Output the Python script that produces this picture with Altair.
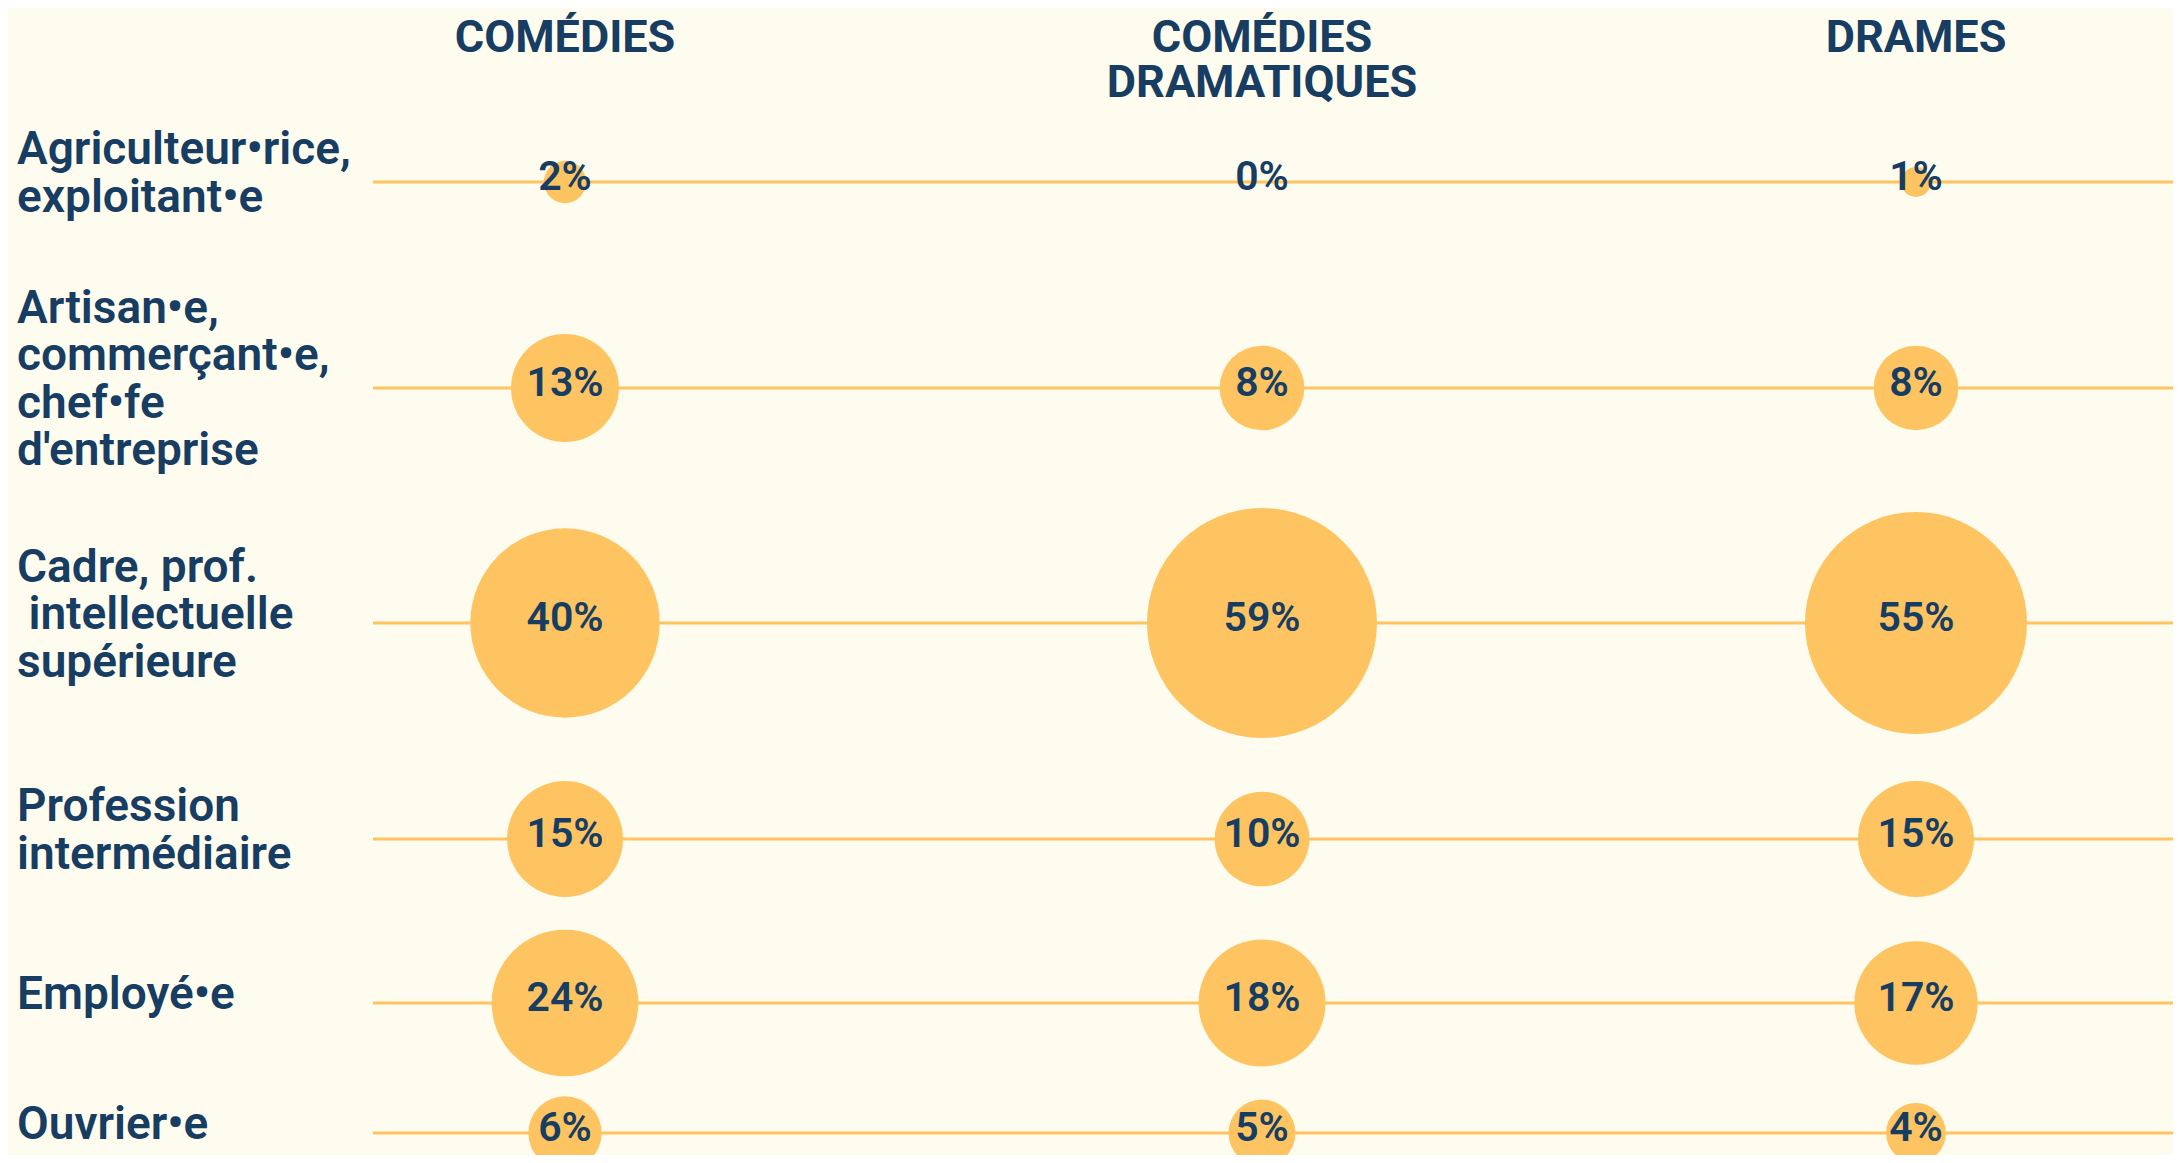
import altair as alt
import pandas as pd

categories = [
    "Agriculteur•rice,\nexploitant•e",
    "Artisan•e,\ncommerçant•e,\nchef•fe\nd'entreprise",
    "Cadre, prof.\n\u2060\u00a0intellectuelle\nsupérieure",
    "Profession\nintermédiaire",
    "Employé•e",
    "Ouvrier•e",
]
genres = ["COMÉDIES", "COMÉDIES\nDRAMATIQUES", "DRAMES"]
comedies = [2, 13, 40, 15, 24, 6]
comedies_dramatiques = [0, 8, 59, 10, 18, 5]
drames = [1, 8, 55, 15, 17, 4]

rows = []
for gi, (g, vals) in enumerate(zip(genres, [comedies, comedies_dramatiques, drames])):
    for ci, (c, v) in enumerate(zip(categories, vals)):
        rows.append({"genre": g, "genre_idx": gi, "categorie": c, "cat_idx": ci,
                     "valeur": v, "label": f"{v}%"})
df = pd.DataFrame(rows)
cat_df = pd.DataFrame({"categorie": categories, "cat_idx": list(range(len(categories)))})

# one datum per printed line of each row label (k = twice the line's offset from the block centre)
line_rows = []
for ci, c in enumerate(categories):
    parts = c.split("\n")
    n = len(parts)
    for li, p in enumerate(parts):
        line_rows.append({"cat_idx": ci, "ligne": p, "k": 2 * li - (n - 1)})
lines_df = pd.DataFrame(line_rows)
genre_df = pd.DataFrame({"genre": genres, "genre_idx": list(range(len(genres)))})

BG = "#FEFCEF"
YEL = "#FDC461"
NAVY = "#173D63"
FONT = "Roboto"
LH = 47.5

x_scale = alt.Scale(domain=[0, 1, 2], range=[557, 1254, 1908], nice=False, zero=False)
y_scale = alt.Scale(domain=[0, 1, 2, 3, 4, 5], range=[174, 380, 615, 831, 995, 1125],
                    nice=False, zero=False)
size_scale = alt.Scale(type="linear", domain=[0, 59], range=[0, 52900])

X = alt.X("genre_idx:Q", scale=x_scale, axis=None)
Y = alt.Y("cat_idx:Q", scale=y_scale, axis=None)

rules = alt.Chart(cat_df).mark_rule(color=YEL, strokeWidth=3).encode(
    y=Y, x=alt.value(365), x2=alt.value(2165)
)

circles = alt.Chart(df).mark_circle(color=YEL, opacity=1).encode(
    x=X, y=Y, size=alt.Size("valeur:Q", scale=size_scale, legend=None)
)

pct = alt.Chart(df).mark_text(
    font=FONT, fontSize=41, fontWeight=600, color=NAVY,
    align="center", baseline="alphabetic", dy=8
).encode(x=X, y=Y, text="label:N")

label_layers = []
for k in sorted(set(lines_df["k"])):
    label_layers.append(
        alt.Chart(lines_df).transform_filter(alt.datum.k == int(k)).mark_text(
            font=FONT, fontSize=46, fontWeight=600, color=NAVY,
            align="left", baseline="middle", dy=-8 + k * LH / 2
        ).encode(x=alt.value(9), y=Y, text="ligne:N")
    )

headers = alt.Chart(genre_df).mark_text(
    font=FONT, fontSize=45, fontWeight="bold", color=NAVY,
    align="center", baseline="alphabetic", lineBreak="\n", lineHeight=45
).encode(x=X, y=alt.value(44), text="genre:N")

chart = alt.layer(rules, circles, pct, *label_layers, headers).properties(
    width=2165, height=1147, padding=0, background=BG,
    autosize=alt.AutoSizeParams(type="none")
).configure_view(strokeWidth=0)

chart.save("out.html", embed_options={"renderer": "svg", "actions": False})
